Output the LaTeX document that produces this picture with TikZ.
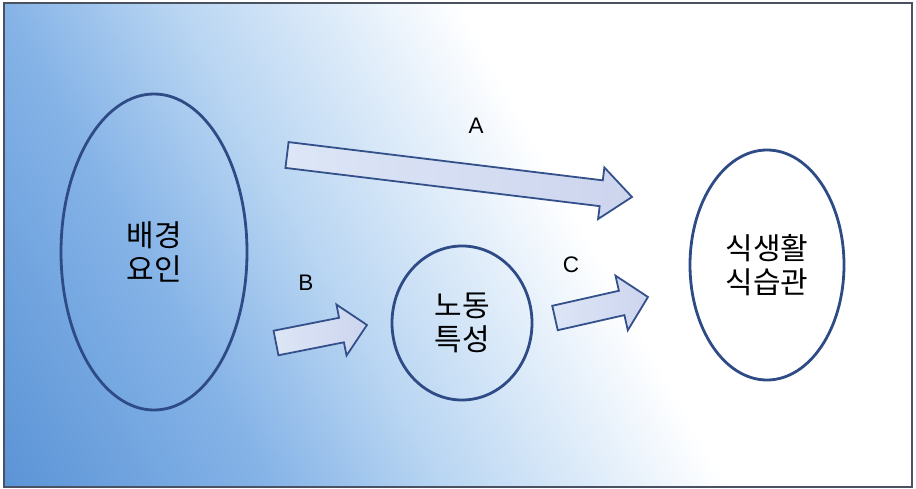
\documentclass[tikz,border=0pt]{standalone}
\usepackage{fontspec}
\setmainfont{Liberation Sans}
\newfontfamily\krfont{Noto Sans CJK KR}
\usetikzlibrary{shapes.geometric,calc}
\definecolor{bgA}{HTML}{5690D4}
\definecolor{bgB}{HTML}{85B3E7}
\definecolor{bgC}{HTML}{B8D5F2}
\definecolor{bgD}{HTML}{E2EEFA}
\definecolor{ellline}{HTML}{2E4B86}
\definecolor{arrline}{HTML}{34508A}
\definecolor{arrL}{HTML}{DCE6F6}
\definecolor{arrR}{HTML}{CDD5EE}
\definecolor{frameline}{HTML}{4A5262}
\pgfdeclarehorizontalshading{bgshade}{100bp}{color(0bp)=(bgA); color(25bp)=(bgA); color(44.12bp)=(bgB); color(55.15bp)=(bgC); color(66.18bp)=(bgD); color(73.53bp)=(white); color(100bp)=(white)}
\tikzset{
  ell/.style={ellipse, draw=ellline, line width=2.8pt, inner sep=0pt, align=center,
    font=\krfont\fontsize{30}{34}\selectfont},
  barrow/.style={draw=arrline, line width=1.8pt, line join=miter,
    left color=arrL, middle color=white, right color=arrR},
  lbl/.style={font=\fontsize{22.5}{26}\selectfont, inner sep=0pt}
}
\newcommand{\blockarrow}[5]{%
  \path[barrow] let \p1=($(#2)-(#1)$), \n1={veclen(\x1,\y1)}, \n2={atan2(\y1,\x1)} in
    ([shift={(#1)},rotate=\n2]0pt,#3pt)
    -- ([shift={(#1)},rotate=\n2]\n1-#5pt,#3pt)
    -- ([shift={(#1)},rotate=\n2]\n1-#5pt,#4pt)
    -- ([shift={(#1)},rotate=\n2]\n1,0pt)
    -- ([shift={(#1)},rotate=\n2]\n1-#5pt,-#4pt)
    -- ([shift={(#1)},rotate=\n2]\n1-#5pt,-#3pt)
    -- ([shift={(#1)},rotate=\n2]0pt,-#3pt) -- cycle;
}
\begin{document}
\begin{tikzpicture}[x=1pt,y=-1pt]
\useasboundingbox (0,0) rectangle (916,489);
\fill[white] (0,0) rectangle (916,489);
\begin{scope}
  \clip (4,3) rectangle (912,487);
  \shade[shading=bgshade, transform canvas={rotate=29}] (-260,-20) rectangle (420,900);
\end{scope}
\draw[frameline, line width=1.4pt] (4,3) rectangle (912,487);

\node[ell, minimum width=186pt, minimum height=316pt] (bg) at (154,252) {배경\\요인};
\node[ell, minimum width=140pt, minimum height=154pt] (work) at (462,323) {노동\\특성};
\node[ell, minimum width=154pt, minimum height=230pt] (meal) at (767,265) {식생활\\식습관};

\coordinate (aS) at (287,155);
\coordinate (aE) at (632,197);
\coordinate (bS) at (276,343);
\coordinate (bE) at (367,325);
\coordinate (cS) at (555,318);
\coordinate (cE) at (648,297);
\blockarrow{aS}{aE}{13}{26}{31}
\blockarrow{bS}{bE}{12.5}{26}{26}
\blockarrow{cS}{cE}{12.5}{28}{27}

\node[lbl] (la) at (476,126) {A};
\node[lbl] (lb) at (306,283) {B};
\node[lbl] (lc) at (571,265) {C};
\end{tikzpicture}
\end{document}
